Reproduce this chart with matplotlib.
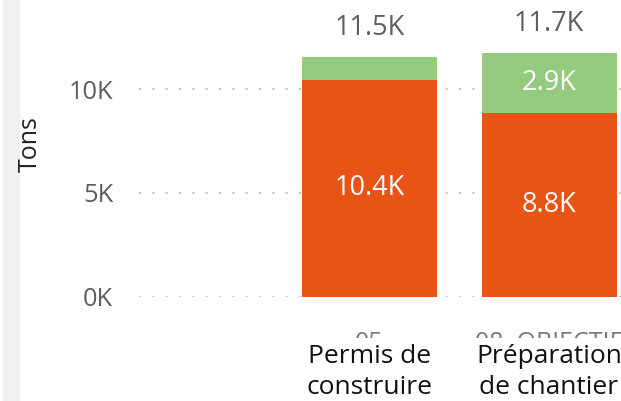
import matplotlib
matplotlib.use("Agg")
import matplotlib.pyplot as plt
import matplotlib.transforms as mtransforms
from matplotlib.patches import Rectangle

plt.rcParams['font.family'] = ['Open Sans', 'DejaVu Sans']

# données
codes = ["05", "08. OBJECTIF"]
categories = ["Permis de\nconstruire", "Préparation\nde chantier"]
orange_vals = [10.44, 8.84]   # en milliers de tonnes
green_vals = [1.09, 2.90]
yticks = [0, 5, 10]
ytick_labels = ["0K", "5K", "10K"]

W, H = 621, 401
fig = plt.figure(figsize=(W / 100, H / 100), dpi=100)

# bande grise à gauche
fig.patches.append(Rectangle((3 / W, 0), 16 / W, 1, transform=fig.transFigure,
                             color="#F0F0F0", zorder=-1))

ax = fig.add_axes([139 / W, (H - 296.5) / H, (W - 139) / W, 296.5 / H])
x = list(range(len(categories)))
ax.bar(x, orange_vals, width=0.752, color="#E85416", edgecolor="none", zorder=3)
ax.bar(x, green_vals, width=0.752, bottom=orange_vals, color="#94CA7D",
       edgecolor="none", zorder=3)

ax.set_xlim(-1.284, 1.401)
ax.set_ylim(0, 296.5 / 20.75)

for s in ax.spines.values():
    s.set_visible(False)
ax.set_yticks(yticks)
ax.set_yticklabels(ytick_labels, color="#605E5C", fontsize=18.3)
ax.tick_params(axis="y", length=0, pad=18.5)
ax.grid(axis="y", color="#C8C8C8", linestyle=(0, (1, 5.4)), linewidth=1.5, zorder=0)
ax.set_axisbelow(True)

ax.set_xticks(x)
ax.set_xticklabels(categories, color="#111111", fontsize=19, linespacing=1.32)
ax.tick_params(axis="x", length=0, pad=34)

# étiquettes des valeurs
for i in x:
    o, g = orange_vals[i], green_vals[i]
    tot = o + g
    ax.annotate(f"{tot:.1f}K", (i, tot), xytext=(0, 21), textcoords="offset points",
                ha="center", va="center", color="#605E5C", fontsize=19.5)
    ax.text(i, o / 2, f"{o:.1f}K", ha="center", va="center", color="white",
            fontsize=19.5, zorder=4)
    if g > 2:
        ax.text(i, o + g / 2, f"{g:.1f}K", ha="center", va="center", color="white",
                fontsize=19.5, zorder=4)

# codes coupés au-dessus des noms
clip = mtransforms.TransformedBbox(
    mtransforms.Bbox([[0, (H - 338) / H], [1, 1]]), fig.transFigure)
for i in x:
    t = ax.annotate(codes[i], (i, 0), xycoords=("data", "axes fraction"),
                    xytext=(0, -38.5), textcoords="offset points",
                    ha="center", va="baseline", color="#7A7A7A", fontsize=18,
                    annotation_clip=False)
    t.set_clip_box(clip)
    t.set_clip_on(True)

fig.text(30 / W, 1 - 144 / H, "Tons", rotation=90, ha="center", va="center",
         color="#252423", fontsize=18)

fig.savefig("out.png", dpi=100)
